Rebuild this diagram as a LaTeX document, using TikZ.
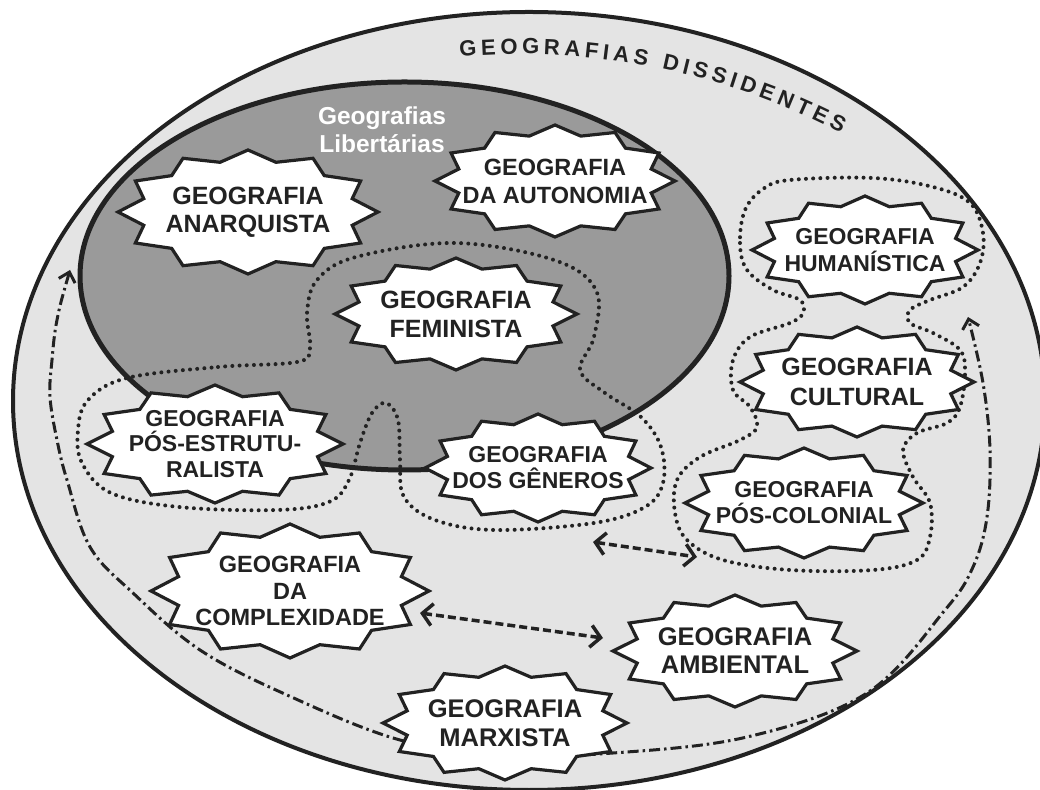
\documentclass[tikz,border=0pt]{standalone}
\usepackage{fontspec}
\setmainfont{Liberation Sans}
\usetikzlibrary{arrows.meta}
\definecolor{outerfill}{HTML}{E4E4E4}
\definecolor{darkfill}{HTML}{9A9A9A}
\definecolor{ink}{HTML}{222222}
\tikzset{
  outerell/.style={draw=ink, fill=outerfill, line width=4pt},
  darkell/.style={draw=ink, fill=darkfill, line width=5pt},
  starline/.style={draw=ink, fill=white, line width=3.2pt, line join=miter},
  startext/.style={align=center, text=ink, inner sep=0pt},
  libtext/.style={align=center, text=white, font=\bfseries\fontsize{24.5}{28}\selectfont, inner sep=0pt},
  arctext/.style={text=ink, font=\bfseries\fontsize{22}{26}\selectfont, inner sep=0pt, anchor=base},
  dotloop/.style={draw=ink, line width=4pt, line cap=round, dash pattern=on 0pt off 7.2pt},
  dasharrow/.style={draw=ink, line width=3.5pt, dash pattern=on 8pt off 4pt,
    {Straight Barb[length=10pt,width=22pt]}-{Straight Barb[length=10pt,width=22pt]}},
  dashdot/.style={draw=ink, line width=3pt, dash pattern=on 11pt off 4pt on 2.5pt off 4pt,
    {Straight Barb[length=9pt,width=17pt]}-{Straight Barb[length=9pt,width=17pt]}},
}
\newcommand{\gstar}[8]{%
  \draw[starline] plot[samples at={0,15,...,345}, variable=\t]
    ({#2+#4*(0.915+0.085*cos(12*\t))*cos(\t)},{789-#3+#5*(0.915+0.085*cos(12*\t))*sin(\t)}) -- cycle;
  \node[startext, font=\bfseries\fontsize{#6}{#7}\selectfont] (#1) at (#2,{789-#3}) {#8};
}
\begin{document}
\begin{tikzpicture}[x=1pt,y=1pt]
\useasboundingbox (0,0) rectangle (1040,789);
\fill[white] (0,0) rectangle (1040,789);
% outer and inner ellipses
\draw[outerell] (529,388) ellipse [x radius=516pt, y radius=389pt];
\draw[darkell] (404.5,513) ellipse [x radius=324.5pt, y radius=194pt];
\node[libtext] (lib) at (382,659) {Geografias\\Libertárias};
% curved title
\foreach \ch/\c [count=\i] in {G/8.56,E/28.92,O/49.27,G/70.85,R/91.81,A/112.15,F/131.27,I/145.51,A/160.97,S/180.71,D/211.02,I/226.48,S/241.34,S/260.47,I/275.32,D/290.78,E/310.52,N/330.25,T/349.37,E/367.89,S/387.02}{
  \pgfmathsetmacro\ang{94.9-\c*0.082797}
  \node[arctext, rotate=\ang-90] (d\i) at ({519+692*cos(\ang)},{43+692*sin(\ang)}) {\ch};
}
% dash-dot arc
\coordinate (ddl) at (70,519);
\coordinate (ddr) at (968,472);
\draw[dashdot] plot[smooth, tension=0.6] coordinates {(70,519) (57,469) (52,429) (50,392) (57,349) (67,309) (90,242) (133,196) (200,139) (287,94) (400,49) (505,34) (613,36) (747,52) (867,96) (945,179) (973,222) (987,272) (990,339) (983,406) (968,472)};
% dotted loops
\draw[dotloop] plot[smooth cycle, tension=0.6] coordinates {(127,411) (218,422) (297,427) (310,441) (307,476) (317,509) (356,532) (455,546) (554,529) (596,499) (594,452) (580,419) (605,396) (641,372) (661,342) (663,306) (645,282) (594,266) (495,259) (435,269) (404,292) (400,329) (398,369) (386,386) (372,376) (360,346) (349,309) (329,287) (277,279) (179,282) (111,296) (82,326) (78,359) (88,389)};
\draw[dotloop] plot[smooth cycle, tension=0.6] coordinates {(745,579) (740,546) (747,519) (773,499) (800,489) (803,476) (790,466) (750,452) (733,429) (733,399) (750,382) (757,362) (740,349) (700,332) (677,309) (675,276) (687,249) (723,229) (790,219) (873,219) (917,229) (930,252) (930,286) (913,312) (903,339) (917,356) (947,366) (960,382) (965,416) (960,439) (933,456) (910,466) (910,479) (930,489) (963,502) (980,526) (983,556) (970,586) (933,602) (873,611) (790,609) (763,600)};
% dashed double arrows
\coordinate (a1) at (593,247);
\coordinate (a2) at (697,232);
\coordinate (b1) at (420,176);
\coordinate (b2) at (603,151);
\draw[dasharrow] (a1) -- (a2);
\draw[dasharrow] (b1) -- (b2);
% stars
\gstar{anar}{248}{212}{130}{62}{25}{28}{GEOGRAFIA\\ANARQUISTA}
\gstar{auto}{555}{181}{120}{56}{23.5}{28}{GEOGRAFIA\\DA AUTONOMIA}
\gstar{femi}{456}{314}{121}{56}{25}{29}{GEOGRAFIA\\FEMINISTA}
\gstar{pose}{215}{444}{128}{59}{23}{25.5}{GEOGRAFIA\\PÓS-ESTRUTU-\\RALISTA}
\gstar{gene}{538}{468}{113}{54}{23}{26}{GEOGRAFIA\\DOS GÊNEROS}
\gstar{huma}{865}{250}{113}{54}{23}{27}{GEOGRAFIA\\HUMANÍSTICA}
\gstar{cult}{857}{382}{117}{55}{25}{30}{GEOGRAFIA\\CULTURAL}
\gstar{posc}{804}{503}{119}{55}{23}{26}{GEOGRAFIA\\PÓS-COLONIAL}
\gstar{comp}{290}{591}{139}{67}{23.5}{26.5}{GEOGRAFIA\\DA\\COMPLEXIDADE}
\gstar{ambi}{735}{651}{122}{56}{25.5}{28}{GEOGRAFIA\\AMBIENTAL}
\gstar{marx}{505}{723}{122}{57}{25.5}{29}{GEOGRAFIA\\MARXISTA}
\end{tikzpicture}
\end{document}
